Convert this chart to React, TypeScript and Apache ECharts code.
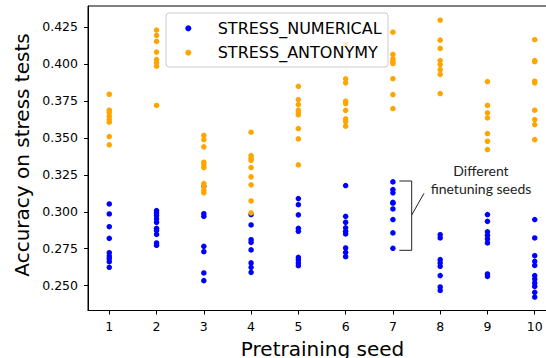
import React, { useEffect, useRef } from "react";
import * as echarts from "echarts";

const seeds = [1, 2, 3, 4, 5, 6, 7, 8, 9, 10];
const xTicks = [1, 2, 3, 4, 5, 6, 7, 8, 9, 10];
const yTicks = [0.25, 0.275, 0.3, 0.325, 0.35, 0.375, 0.4, 0.425];

const numericalScores: number[][] = [
  [0.3053, 0.2985, 0.2899, 0.282, 0.2723, 0.27, 0.2683, 0.2662, 0.2624],
  [0.3008, 0.2992, 0.2974, 0.2952, 0.2929, 0.2888, 0.2874, 0.2847, 0.2789, 0.2773],
  [0.3172, 0.2987, 0.2969, 0.2766, 0.273, 0.2586, 0.2534],
  [0.2981, 0.2911, 0.2811, 0.2793, 0.2742, 0.2654, 0.2624, 0.259],
  [0.3089, 0.3048, 0.2979, 0.2888, 0.2868, 0.2692, 0.2676, 0.2654, 0.2635],
  [0.3177, 0.2969, 0.2929, 0.2891, 0.2868, 0.285, 0.2755, 0.2725, 0.2696],
  [0.3202, 0.315, 0.3128, 0.3064, 0.3058, 0.3019, 0.2947, 0.2857, 0.2753],
  [0.2845, 0.2823, 0.2676, 0.2654, 0.2631, 0.2568, 0.2491, 0.2468],
  [0.2981, 0.2935, 0.2864, 0.2841, 0.2816, 0.2789, 0.2579, 0.2563],
  [0.2947, 0.2823, 0.2703, 0.2665, 0.2637, 0.2568, 0.2545, 0.2518, 0.2495, 0.2455, 0.2423],
];

const antonymyScores: number[][] = [
  [0.3795, 0.3687, 0.3669, 0.3646, 0.3624, 0.3606, 0.3509, 0.3453],
  [0.4229, 0.4193, 0.4152, 0.408, 0.403, 0.4008, 0.3985, 0.3719],
  [0.3516, 0.3488, 0.3439, 0.3335, 0.3317, 0.3299, 0.3191, 0.3172, 0.3145, 0.3128],
  [0.3538, 0.338, 0.3362, 0.3348, 0.3299, 0.3236, 0.3182, 0.3073, 0.2992],
  [0.3849, 0.3759, 0.3725, 0.3687, 0.3669, 0.3656, 0.3563, 0.3493, 0.3317],
  [0.4132, 0.3899, 0.3872, 0.3748, 0.3732, 0.3686, 0.3629, 0.361, 0.3579],
  [0.4215, 0.4064, 0.4035, 0.4019, 0.4003, 0.39, 0.3793, 0.3698],
  [0.4296, 0.4161, 0.4105, 0.4023, 0.3996, 0.3962, 0.3929, 0.38],
  [0.3881, 0.3719, 0.3669, 0.3635, 0.3529, 0.3477, 0.3421],
  [0.4164, 0.4023, 0.4015, 0.3883, 0.3872, 0.3687, 0.3624, 0.359, 0.3488],
];

const seriesNames = ["STRESS_NUMERICAL", "STRESS_ANTONYMY"];
const seriesColors = ["#0000ff", "#ffa500"];

function toPoints(scores: number[][]): [number, number][] {
  const pts: [number, number][] = [];
  scores.forEach((vals, i) => vals.forEach((v) => pts.push([seeds[i], v])));
  return pts;
}

export default function App() {
  const ref = useRef<HTMLDivElement>(null);
  useEffect(() => {
    if (!ref.current) return;
    const chart = echarts.init(ref.current, null, { renderer: "svg" });
    const font = "DejaVu Sans";
    const legendItems = seriesNames.flatMap((name, i) => [
      {
        type: "circle",
        z: 110,
        shape: { cx: 188.3, cy: 28.3 + i * 24.4, r: 3 },
        style: { fill: seriesColors[i] },
      },
      {
        type: "text",
        z: 110,
        x: 217.7,
        y: 28.3 + i * 24.4,
        style: {
          text: name,
          fontFamily: font,
          fontSize: 16,
          fill: "#000",
          align: "left",
          verticalAlign: "middle",
        },
      },
    ]);
    const option: any = {
      animation: false,
      grid: {
        left: 88,
        right: -10,
        top: 6,
        bottom: 47.5,
        show: true,
        borderColor: "#000",
        borderWidth: 1,
        backgroundColor: "transparent",
        outerBoundsMode: "none",
        containLabel: false,
      },
      xAxis: {
        type: "value",
        min: 0.55,
        max: 10.45,
        axisLine: { show: true, lineStyle: { color: "#000", width: 1 } },
        axisTick: { show: true, customValues: xTicks, length: 4, lineStyle: { color: "#000" } },
        axisLabel: {
          customValues: xTicks,
          fontFamily: font,
          fontSize: 12.5,
          color: "#000",
          margin: 9,
          formatter: (v: number) => String(v),
        },
        splitLine: { show: false },
      },
      yAxis: {
        type: "value",
        min: 0.2332,
        max: 0.4392,
        axisLine: { show: true, lineStyle: { color: "#000", width: 1 } },
        axisTick: { show: true, customValues: yTicks, length: 4, lineStyle: { color: "#000" } },
        axisLabel: {
          customValues: yTicks,
          fontFamily: font,
          fontSize: 12.5,
          color: "#000",
          margin: 10,
          formatter: (v: number) => v.toFixed(3),
        },
        splitLine: { show: false },
      },
      graphic: [
        {
          type: "rect",
          z: 100,
          shape: { x: 166, y: 13, width: 222, height: 54, r: 3 },
          style: { fill: "rgba(255,255,255,0.8)", stroke: "#cccccc", lineWidth: 1 },
        },
        ...legendItems,
        {
          type: "text",
          x: 22,
          y: 155,
          rotation: Math.PI / 2,
          style: {
            text: "Accuracy on stress tests",
            fontFamily: font,
            fontSize: 20,
            fill: "#000",
            align: "center",
            verticalAlign: "middle",
          },
        },
        {
          type: "text",
          x: 322.5,
          y: 349,
          style: {
            text: "Pretraining seed",
            fontFamily: font,
            fontSize: 20,
            fill: "#000",
            align: "center",
            verticalAlign: "middle",
          },
        },
        {
          type: "polyline",
          z: 50,
          shape: { points: [[399.3, 181], [411.7, 181], [411.7, 250.3], [399.3, 250.3]] },
          style: { stroke: "#222", lineWidth: 1, fill: "none" },
        },
        {
          type: "line",
          z: 50,
          shape: { x1: 411.7, y1: 215, x2: 424, y2: 193.3 },
          style: { stroke: "#222", lineWidth: 1 },
        },
        {
          type: "text",
          x: 481,
          y: 170,
          style: {
            text: "Different",
            fontFamily: "Lato",
            fontSize: 14,
            fill: "#222",
            align: "center",
            verticalAlign: "middle",
          },
        },
        {
          type: "text",
          x: 481,
          y: 188,
          style: {
            text: "finetuning seeds",
            fontFamily: "Lato",
            fontSize: 14,
            fill: "#222",
            align: "center",
            verticalAlign: "middle",
          },
        },
      ],
      series: [
        {
          name: seriesNames[0],
          type: "scatter",
          symbol: "circle",
          symbolSize: 5.5,
          itemStyle: { color: seriesColors[0], opacity: 1 },
          data: toPoints(numericalScores),
        },
        {
          name: seriesNames[1],
          type: "scatter",
          symbol: "circle",
          symbolSize: 5.5,
          itemStyle: { color: seriesColors[1], opacity: 1 },
          data: toPoints(antonymyScores),
        },
      ],
    };
    chart.setOption(option);
    return () => chart.dispose();
  }, []);
  return <div ref={ref} style={{ width: 546, height: 358, position: "absolute", left: 0, top: 0 }} />;
}
